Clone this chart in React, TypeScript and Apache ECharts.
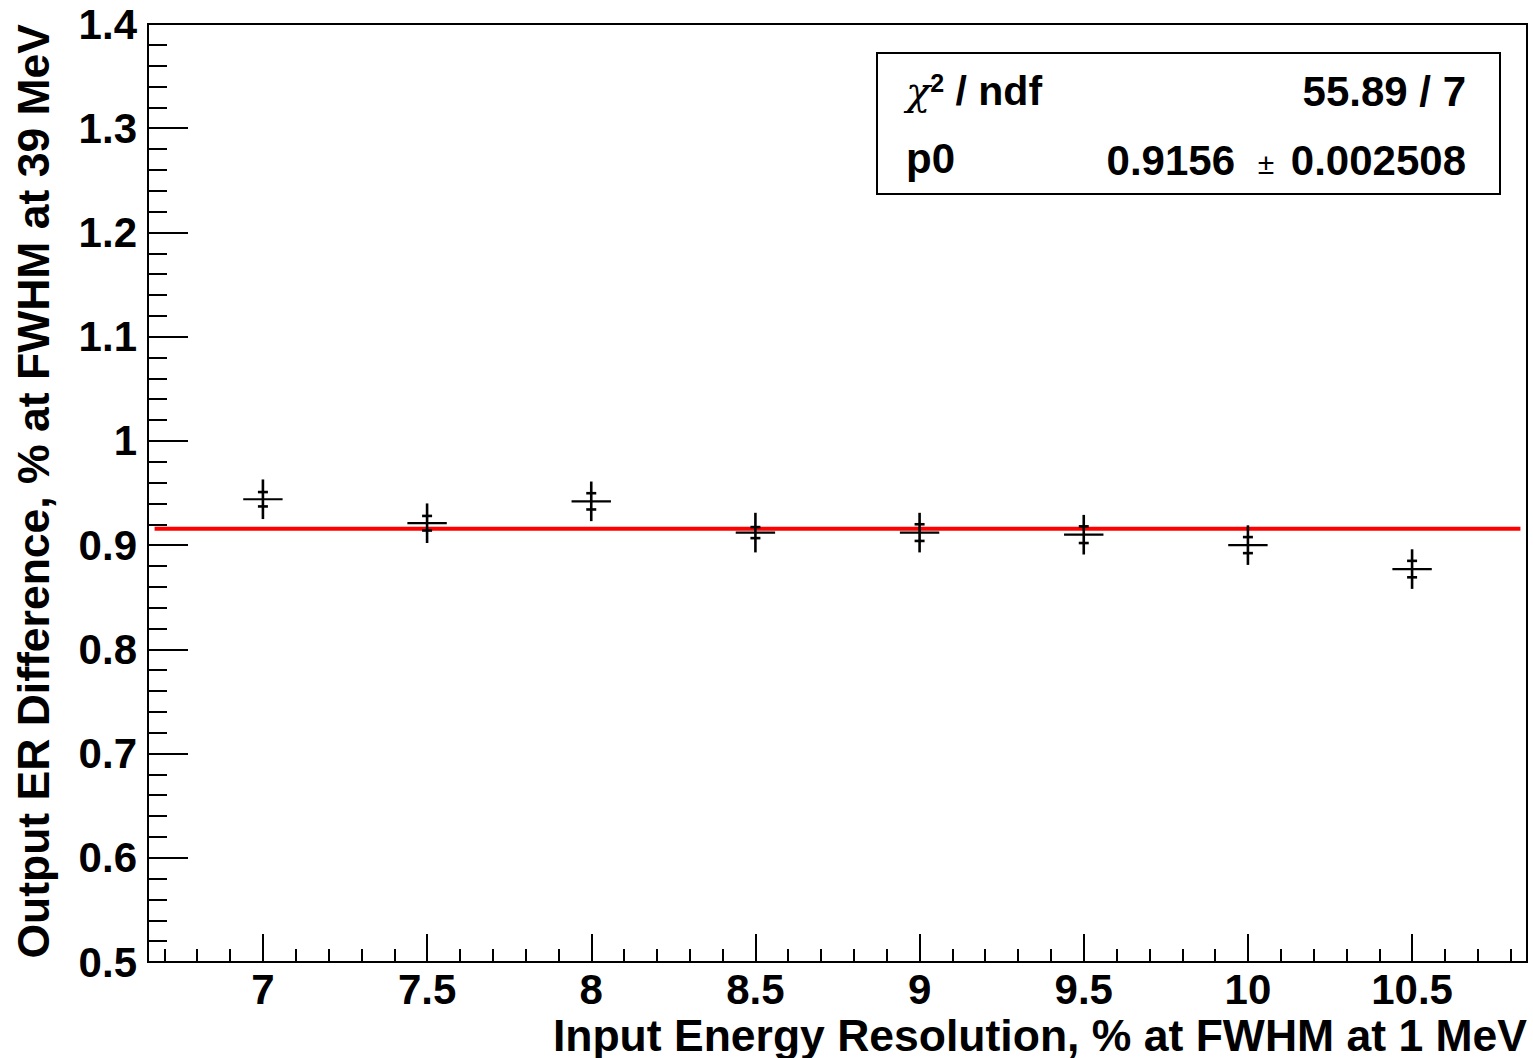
import React, { useEffect, useRef } from "react";
import * as echarts from "echarts";

// ---- data ----
const xValues = [7, 7.5, 8, 8.5, 9, 9.5, 10, 10.5];
const yValues = [0.944, 0.921, 0.942, 0.912, 0.912, 0.910, 0.900, 0.877];
const xErrors = [0.06, 0.06, 0.06, 0.06, 0.06, 0.06, 0.06, 0.06];
const yErrorsOuter = [0.019, 0.019, 0.019, 0.019, 0.019, 0.019, 0.019, 0.019];
const yErrorsInner = [0.0069, 0.007, 0.0078, 0.0053, 0.008, 0.008, 0.0077, 0.0079];

const fitP0 = 0.9156;
const fitRange = [6.67, 10.83];

const xMin = 6.65;
const xMax = 10.85;
const yMin = 0.5;
const yMax = 1.4;
const xMajorTicks = [7, 7.5, 8, 8.5, 9, 9.5, 10, 10.5];
const xMinorTicks = [
  6.7, 6.8, 6.9, 7.1, 7.2, 7.3, 7.4, 7.6, 7.7, 7.8, 7.9, 8.1, 8.2, 8.3, 8.4,
  8.6, 8.7, 8.8, 8.9, 9.1, 9.2, 9.3, 9.4, 9.6, 9.7, 9.8, 9.9, 10.1, 10.2,
  10.3, 10.4, 10.6, 10.7, 10.8,
];

const xTitle = "Input Energy Resolution, % at FWHM at 1 MeV";
const yTitle = "Output ER Difference, % at FWHM at 39 MeV";
const statChi = "55.89 / 7";
const statP0 = "0.9156";
const statP0Err = "0.002508";

const FONT = "Liberation Sans, Arial, Helvetica, sans-serif";

export default function App() {
  const ref = useRef<HTMLDivElement>(null);
  useEffect(() => {
    if (!ref.current) return;
    const chart = echarts.init(ref.current, null, { renderer: "svg" });
    const points = xValues.map((x, i) => [x, yValues[i], xErrors[i], yErrorsOuter[i], yErrorsInner[i]]);
    chart.setOption({
      animation: false,
      backgroundColor: "#fff",
      grid: {
        left: 148,
        top: 24,
        width: 1379,
        height: 938,
        show: true,
        borderColor: "#000",
        borderWidth: 2,
        backgroundColor: "transparent",
      },
      xAxis: [
        {
          type: "value",
          min: xMin,
          max: xMax,
          position: "bottom",
          axisLine: { show: true, lineStyle: { color: "#000", width: 2 } },
          axisTick: {
            show: true,
            inside: true,
            length: 28,
            customValues: xMajorTicks,
            lineStyle: { color: "#000", width: 2 },
          },
          axisLabel: {
            show: true,
            customValues: xMajorTicks,
            margin: 11,
            lineHeight: 32,
            color: "#000",
            fontFamily: FONT,
            fontWeight: "bold",
            fontSize: 42,
          },
          splitLine: { show: false },
        },
        {
          type: "value",
          min: xMin,
          max: xMax,
          position: "bottom",
          axisLine: { show: false },
          axisTick: {
            show: true,
            inside: true,
            length: 13,
            customValues: xMinorTicks,
            lineStyle: { color: "#000", width: 2 },
          },
          axisLabel: { show: false },
          splitLine: { show: false },
        },
      ],
      yAxis: {
        type: "value",
        min: yMin,
        max: yMax,
        interval: 0.1,
        axisLine: { show: true, lineStyle: { color: "#000", width: 2 } },
        axisTick: { show: true, inside: true, length: 40, lineStyle: { color: "#000", width: 2 } },
        minorTick: { show: true, splitNumber: 5, length: 19, lineStyle: { color: "#000", width: 2 } },
        axisLabel: {
          margin: 11,
          color: "#000",
          fontFamily: FONT,
          fontWeight: "bold",
          fontSize: 42,
        },
        splitLine: { show: false },
      },
      series: [
        {
          type: "line",
          xAxisIndex: 0,
          data: [
            [fitRange[0], fitP0],
            [fitRange[1], fitP0],
          ],
          symbol: "none",
          lineStyle: { color: "#ff0000", width: 4 },
          z: 2,
        },
        {
          type: "custom",
          xAxisIndex: 0,
          z: 5,
          data: points,
          renderItem: (params: any, api: any) => {
            const x = api.value(0);
            const y = api.value(1);
            const xe = api.value(2);
            const yo = api.value(3);
            const yi = api.value(4);
            const c = api.coord([x, y]);
            const l = api.coord([x - xe, y]);
            const r = api.coord([x + xe, y]);
            const t = api.coord([x, y + yo]);
            const b = api.coord([x, y - yo]);
            const ti = api.coord([x, y + yi]);
            const bi = api.coord([x, y - yi]);
            const hw = 5;
            const thick = { stroke: "#000", lineWidth: 2.6 };
            return {
              type: "group",
              children: [
                { type: "line", shape: { x1: l[0], y1: c[1], x2: r[0], y2: c[1] }, style: { stroke: "#000", lineWidth: 2.2 } },
                { type: "line", shape: { x1: c[0], y1: t[1], x2: c[0], y2: b[1] }, style: thick },
                { type: "line", shape: { x1: c[0] - hw, y1: ti[1], x2: c[0] + hw, y2: ti[1] }, style: thick },
                { type: "line", shape: { x1: c[0] - hw, y1: bi[1], x2: c[0] + hw, y2: bi[1] }, style: thick },
              ],
            };
          },
        },
      ],
      graphic: [
        {
          type: "text",
          x: 1527,
          y: 1035,
          style: {
            text: xTitle,
            align: "right",
            verticalAlign: "middle",
            font: `bold 44.5px ${FONT}`,
            lineHeight: 34,
            fill: "#000",
          },
        },
        {
          type: "text",
          x: 33,
          y: 24,
          rotation: Math.PI / 2,
          style: {
            text: yTitle,
            align: "right",
            verticalAlign: "middle",
            font: `bold 44.5px ${FONT}`,
            fill: "#000",
          },
        },
        {
          type: "rect",
          shape: { x: 877, y: 53, width: 623, height: 141 },
          style: { fill: "#fff", stroke: "#000", lineWidth: 2 },
          z: 10,
        },
        {
          type: "text",
          x: 906,
          y: 91,
          z: 11,
          style: {
            text: "{chi|χ}{sup|2}{b| / ndf}",
            align: "left",
            verticalAlign: "middle",
            rich: {
              chi: { fontFamily: "DejaVu Serif, Liberation Serif, serif", fontSize: 40, fill: "#000", fontStyle: "italic" },
              sup: { fontFamily: FONT, fontWeight: "bold", fontSize: 25, fill: "#000", verticalAlign: "top" },
              b: { fontFamily: FONT, fontWeight: "bold", fontSize: 41, fill: "#000" },
            },
          },
        },
        {
          type: "text",
          x: 1466,
          y: 91,
          z: 11,
          style: {
            text: statChi,
            align: "right",
            verticalAlign: "middle",
            font: `bold 42px ${FONT}`,
            fill: "#000",
          },
        },
        {
          type: "text",
          x: 906,
          y: 158,
          z: 11,
          style: {
            text: "p0",
            align: "left",
            verticalAlign: "middle",
            font: `bold 42px ${FONT}`,
            fill: "#000",
          },
        },
        {
          type: "text",
          x: 1235,
          y: 160,
          z: 11,
          style: {
            text: statP0,
            align: "right",
            verticalAlign: "middle",
            font: `bold 42px ${FONT}`,
            fill: "#000",
          },
        },
        {
          type: "text",
          x: 1266,
          y: 163,
          z: 11,
          style: {
            text: "±",
            align: "center",
            verticalAlign: "middle",
            font: `30px ${FONT}`,
            fill: "#000",
          },
        },
        {
          type: "text",
          x: 1466,
          y: 160,
          z: 11,
          style: {
            text: statP0Err,
            align: "right",
            verticalAlign: "middle",
            font: `bold 42px ${FONT}`,
            fill: "#000",
          },
        },
      ],
    });
    return () => chart.dispose();
  }, []);
  return (
    <div
      ref={ref}
      style={{ position: "absolute", left: 0, top: 0, width: 1533, height: 1058, background: "#fff" }}
    />
  );
}
